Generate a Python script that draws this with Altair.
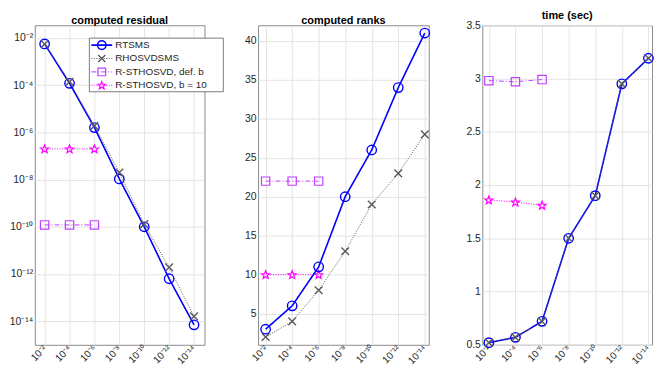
import math
import altair as alt
import pandas as pd

# ---------------- data ----------------
series = ["RTSMS", "RHOSVDSMS", "R-STHOSVD, def. b", "R-STHOSVD, b = 10"]
tol_exp = [-2, -4, -6, -8, -10, -12, -14]
tol_exp_short = [-2, -4, -6]

resid_rtsms = [5.6e-3, 1.2e-4, 1.6e-6, 1.07e-8, 1.0e-10, 6.3e-13, 7.0e-15]
resid_rhosvd = [5.5e-3, 1.4e-4, 1.9e-6, 2.0e-8, 1.3e-10, 1.9e-12, 1.6e-14]
resid_defb = [1.2e-10, 1.2e-10, 1.2e-10]
resid_b10 = [2.0e-7, 2.0e-7, 2.0e-7]

rank_rtsms = [3, 6, 11, 20, 26, 34, 41]
rank_rhosvd = [2, 4, 8, 13, 19, 23, 28]
rank_defb = [22, 22, 22]
rank_b10 = [10, 10, 10]

time_rtsms = [0.52, 0.57, 0.72, 1.50, 1.90, 2.95, 3.19]
time_rhosvd = [0.52, 0.57, 0.72, 1.50, 1.90, 2.95, 3.19]
time_defb = [2.98, 2.97, 2.99]
time_b10 = [1.86, 1.84, 1.81]

resid_ticks = [1e-2, 1e-4, 1e-6, 1e-8, 1e-10, 1e-12, 1e-14]
rank_ticks = [5, 10, 15, 20, 25, 30, 35, 40]
time_ticks = [0.5, 1, 1.5, 2, 2.5, 3, 3.5]

# ---------------- styles ----------------
def star_path(ro=1.0, ri=0.42):
    pts = []
    for k in range(10):
        r = ro if k % 2 == 0 else ri
        a = math.radians(-90 + 36 * k)
        pts.append(f"{r*math.cos(a):.3f},{r*math.sin(a)+0.08:.3f}")
    return "M" + "L".join(pts) + "Z"

XMARK = "M-1,-1L1,1M-1,1L1,-1"
STYLE = {
    "RTSMS": dict(color="#0000ff", dash=[1, 0], width=1.6, shape="circle", size=90, sw=1.4),
    "RHOSVDSMS": dict(color="#5a5a5a", dash=[1, 1.5], width=1.0, shape=XMARK, size=60, sw=1.4),
    "R-STHOSVD, def. b": dict(color="#bf40ff", dash=[5, 2, 1, 2], width=1.0, shape="square", size=70, sw=1.2),
    "R-STHOSVD, b = 10": dict(color="#ff00ff", dash=[1, 1.5], width=1.0, shape=star_path(), size=75, sw=1.2),
}

FONT = "Liberation Sans"
TXT = "#262626"
SUP = ("'10' + replace(replace(replace(replace(replace(replace(replace(toString({e}), "
       "'-', '\u207b'), '1', '\u00b9'), '2', '\u00b2'), '4', '\u2074'), '6', '\u2076'), "
       "'8', '\u2078'), '0', '\u2070')")

H = 322


def long_df(vals_by_series, xs_by_series):
    rows = []
    for s in series:
        for x, v in zip(xs_by_series[s], vals_by_series[s]):
            rows.append({"series": s, "e": x, "v": v})
    return pd.DataFrame(rows)


xs = {series[0]: tol_exp, series[1]: tol_exp,
      series[2]: tol_exp_short, series[3]: tol_exp_short}
df_resid = long_df({series[0]: resid_rtsms, series[1]: resid_rhosvd,
                    series[2]: resid_defb, series[3]: resid_b10}, xs)
df_rank = long_df({series[0]: rank_rtsms, series[1]: rank_rhosvd,
                   series[2]: rank_defb, series[3]: rank_b10}, xs)
df_time = long_df({series[0]: time_rtsms, series[1]: time_rhosvd,
                   series[2]: time_defb, series[3]: time_b10}, xs)

draw_order = ["R-STHOSVD, def. b", "R-STHOSVD, b = 10", "RTSMS", "RHOSVDSMS"]


def panel(df, title, xdom, yscale, yaxis, w):
    xenc = alt.X("e:Q", scale=alt.Scale(domain=xdom, reverse=True, nice=False, zero=False),
                 axis=alt.Axis(values=tol_exp, labelExpr=SUP.format(e="datum.value"),
                               labelAngle=315, labelAlign="right", labelBaseline="middle",
                               labelPadding=2, labelFontSize=10),
                 title=None)
    yenc = alt.Y("v:Q", scale=yscale, axis=yaxis, title=None)
    base = alt.Chart(df)
    layers = []
    for s in draw_order:
        st = STYLE[s]
        b = base.transform_filter(alt.datum.series == s)
        layers.append(b.mark_line(color=st["color"], strokeDash=st["dash"],
                                  strokeWidth=st["width"]).encode(x=xenc, y=yenc))
        layers.append(b.mark_point(shape=st["shape"], size=st["size"], color=st["color"],
                                   filled=False, strokeWidth=st["sw"],
                                   opacity=1).encode(x=xenc, y=yenc))
    return alt.layer(*layers).properties(
        width=w, height=H,
        title=alt.TitleParams(title, fontSize=11, fontWeight="bold", font=FONT,
                              color="#000000", offset=-1))


# legend (inside first panel)
LEG_Y0, LEG_DY = 20, 13.5
legend_layers = [
    alt.Chart(pd.DataFrame({"box": [0]})).mark_rect(
        fill="white", stroke="#262626", strokeWidth=0.6).encode(
        x=alt.value(55), x2=alt.value(190), y=alt.value(13), y2=alt.value(67))
]
for i, s in enumerate(series):
    st = STYLE[s]
    ly = LEG_Y0 + i * LEG_DY
    ld = alt.Chart(pd.DataFrame({"series": [s]}))
    legend_layers.append(ld.mark_rule(color=st["color"], strokeDash=st["dash"],
                                      strokeWidth=st["width"]).encode(
        x=alt.value(57), x2=alt.value(78), y=alt.value(ly)))
    legend_layers.append(ld.mark_point(shape=st["shape"], size=st["size"] * 0.85,
                                       color=st["color"], filled=False, opacity=1,
                                       strokeWidth=st["sw"]).encode(
        x=alt.value(67.5), y=alt.value(ly)))
    legend_layers.append(ld.mark_text(align="left", baseline="middle", fontSize=10,
                                      font=FONT, color=TXT).encode(
        x=alt.value(81), y=alt.value(ly), text="series:N"))

ax_common = dict(labelFontSize=10.5, labelFont=FONT, labelColor=TXT, labelPadding=2)

p1 = panel(df_resid, "computed residual", [-14.84, -1.21],
           alt.Scale(type="log", domain=[1e-15, 10 ** -1.46], nice=False),
           alt.Axis(values=resid_ticks,
                    labelExpr=SUP.format(e="round(log(datum.value)/LN10)"), **ax_common),
           171)
p1 = alt.layer(p1, *legend_layers)

p2 = panel(df_rank, "computed ranks", [-14.3, -1.43],
           alt.Scale(domain=[1, 42], nice=False, zero=False),
           alt.Axis(values=rank_ticks, **ax_common), 172)

p3 = panel(df_time, "time (sec)", [-14.27, -1.51],
           alt.Scale(domain=[0.5, 3.5], nice=False, zero=False),
           alt.Axis(values=time_ticks, format="~g", **ax_common), 171)

chart = alt.hconcat(p1, p2, p3, spacing=54, bounds="flush").properties(
    padding={"left": 0, "top": 0, "right": 0, "bottom": 0}
).configure_view(stroke="#8a8a8a", strokeWidth=1).configure_axis(
    domain=False, ticks=False, grid=True, gridColor="#e4e4e4", gridWidth=1,
    labelFont=FONT, labelColor=TXT
)

chart.save("out.html", embed_options={"renderer": "svg", "actions": False})
